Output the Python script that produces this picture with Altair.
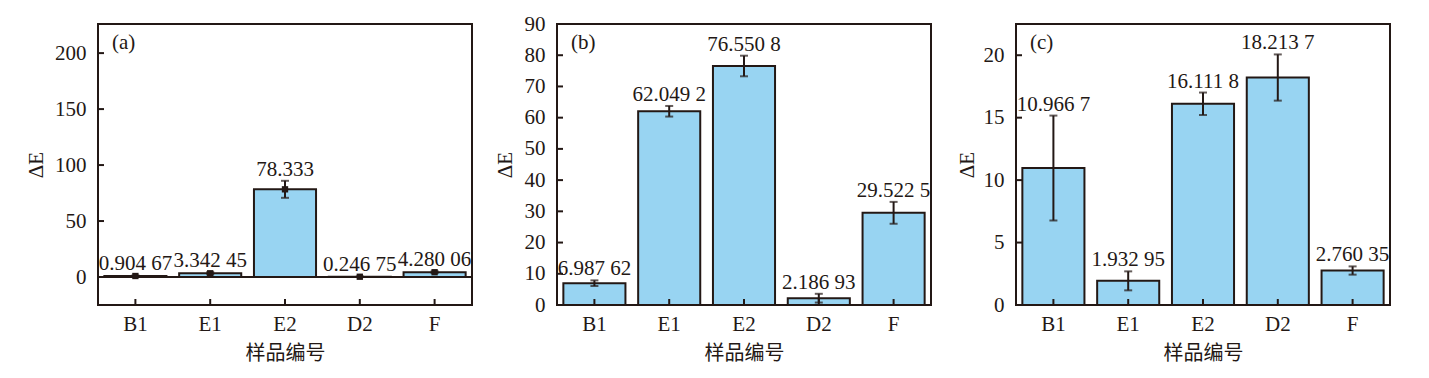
import altair as alt
import pandas as pd

categories = ["B1", "E1", "E2", "D2", "F"]

a_vals = [0.90467, 3.34245, 78.333, 0.24675, 4.28006]
a_errs = [0.5, 1.0, 7.6, 0.3, 0.8]
a_labels = ["0.904 67", "3.342 45", "78.333", "0.246 75", "4.280 06"]
a_ticks = [0, 50, 100, 150, 200]

b_vals = [6.98762, 62.0492, 76.5508, 2.18693, 29.5225]
b_errs = [0.9, 1.7, 3.3, 1.4, 3.5]
b_labels = ["6.987 62", "62.049 2", "76.550 8", "2.186 93", "29.522 5"]
b_ticks = [0, 10, 20, 30, 40, 50, 60, 70, 80, 90]

c_vals = [10.9667, 1.93295, 16.1118, 18.2137, 2.76035]
c_errs = [4.2, 0.76, 0.9, 1.85, 0.33]
c_labels = ["10.966 7", "1.932 95", "16.111 8", "18.213 7", "2.760 35"]
c_ticks = [0, 5, 10, 15, 20]

DARK = "#231815"
FILL = "#98D4F2"
SERIF = "Liberation Serif"
CJK = "Noto Sans CJK SC"
FS = 21
H = 281


def panel(vals, errs, labels, ticks, domain, tag, title_x, width, zero_line=False, squares=False, dy=-5):
    df = pd.DataFrame({
        "cat": categories,
        "val": vals,
        "lo": [v - e for v, e in zip(vals, errs)],
        "hi": [v + e for v, e in zip(vals, errs)],
        "label": labels,
    })
    tdf = pd.DataFrame({"tick": ticks})
    one = pd.DataFrame({"tag": [tag]})

    xaxis = alt.Axis(labelAngle=0, ticks=False, domain=False, grid=False,
                     labelPadding=8, labelFont=SERIF, labelFontSize=FS, labelColor=DARK,
                     titleFont=CJK, titleFontSize=20, titleFontWeight="normal", titleColor=DARK,
                     titleBaseline="middle", titleY=48)
    xscale = alt.Scale(paddingInner=0.17, paddingOuter=0.085)
    yaxis = alt.Axis(values=ticks, ticks=False, tickSize=0, domain=False, grid=False,
                     labelOverlap=False,
                     labelPadding=12, labelFont=SERIF, labelFontSize=FS, labelColor=DARK,
                     titleFont=SERIF, titleFontSize=FS, titleFontWeight="normal", titleColor=DARK,
                     titleBaseline="middle", titleX=title_x)
    yscale = alt.Scale(domain=domain, nice=False, zero=False)

    def X():
        return alt.X("cat:N", sort=categories, title="样品编号", scale=xscale, axis=xaxis)

    def Y(field):
        return alt.Y(field, title="ΔE", scale=yscale, axis=yaxis)

    base = alt.Chart(df)
    bars = base.mark_bar(fill=FILL, stroke=DARK, strokeWidth=2).encode(
        x=X(), y=Y("val:Q"), y2=alt.datum(0))
    layers = [bars]
    if zero_line:
        layers.append(alt.Chart(one).mark_rule(color=DARK, strokeWidth=2).encode(
            y=alt.datum(0)))
    err = base.mark_rule(color=DARK, strokeWidth=2).encode(
        x=X(), y=Y("lo:Q"), y2="hi:Q")
    cap_lo = base.mark_tick(color=DARK, size=8, thickness=2).encode(x=X(), y=Y("lo:Q"))
    cap_hi = base.mark_tick(color=DARK, size=8, thickness=2).encode(x=X(), y=Y("hi:Q"))
    layers += [err, cap_lo, cap_hi]
    if squares:
        layers.append(base.mark_square(color=DARK, size=40, opacity=1).encode(
            x=X(), y=Y("val:Q")))
    text = base.mark_text(font=SERIF, fontSize=FS, color=DARK, baseline="alphabetic", dy=dy).encode(
        x=X(), y=Y("hi:Q"), text="label:N")
    layers.append(text)
    yticks = alt.Chart(tdf).mark_rule(color=DARK, strokeWidth=2).encode(
        y=Y("tick:Q"), x=alt.value(0), x2=alt.value(6))
    xticks = base.mark_rule(color=DARK, strokeWidth=2).encode(
        x=X(), y=alt.value(H), y2=alt.value(H - 6))
    tagmark = alt.Chart(one).mark_text(font=SERIF, fontSize=FS, color=DARK, align="left",
                                       baseline="middle").encode(
        x=alt.value(14), y=alt.value(19), text="tag:N")
    layers += [yticks, xticks, tagmark]
    return alt.layer(*layers).properties(width=width, height=H)


pa = panel(a_vals, a_errs, a_labels, a_ticks, [-25, 226], "(a)", -62, 374,
           zero_line=True, squares=True, dy=-5)
pb = panel(b_vals, b_errs, b_labels, b_ticks, [0, 90], "(b)", -52, 374)
pc = panel(c_vals, c_errs, c_labels, c_ticks, [0, 22.5], "(c)", -49, 374)

chart = alt.hconcat(pa, pb, pc, spacing=85, bounds="flush").properties(
    padding={"left": 24, "top": 12, "right": 5, "bottom": 5},
    background="white",
).configure_view(stroke=DARK, strokeWidth=2)

chart.save("out.html", embed_options={"renderer": "svg", "actions": False})
